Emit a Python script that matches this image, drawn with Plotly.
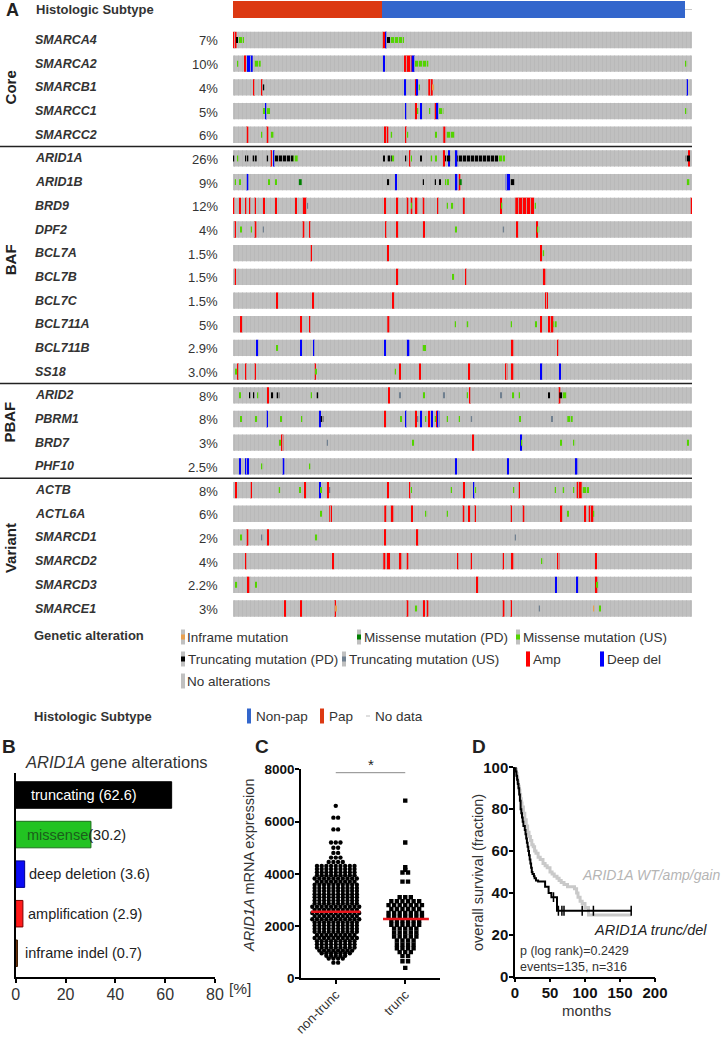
import plotly.graph_objects as go

# ============================ DATA ============================
FIG_W, FIG_H = 723, 1037

GENES = ["SMARCA4", "SMARCA2", "SMARCB1", "SMARCC1", "SMARCC2",
         "ARID1A", "ARID1B", "BRD9", "DPF2", "BCL7A", "BCL7B", "BCL7C",
         "BCL711A", "BCL711B", "SS18",
         "ARID2", "PBRM1", "BRD7", "PHF10",
         "ACTB", "ACTL6A", "SMARCD1", "SMARCD2", "SMARCD3", "SMARCE1"]
PCTS = ["7%", "10%", "4%", "5%", "6%", "26%", "9%", "12%", "4%", "1.5%", "1.5%",
        "1.5%", "5%", "2.9%", "3.0%", "8%", "8%", "3%", "2.5%", "8%", "6%", "2%",
        "4%", "2.2%", "3%"]
GROUP_NAMES = ["Core", "BAF", "PBAF", "Variant"]
GROUP_CENTERS = [2.0, 9.3, 16.15, 21.45]
GROUP_BREAKS = [4.5, 14.5, 18.5]

N_SAMPLES = 459
PAP_SAMPLES = 149
NONPAP_SAMPLES = 303

# alteration codes: A amp, D deep del, M missense (US), P missense (PD),
# T truncating (PD), U truncating (US), I inframe ; (code, first sample, n samples)
SMARCA4 = [("A", 0, 3.5), ("T", 3, 1.2), ("M", 4.3, 6.7), ("A", 149.3, 3.4), ("D", 152, 1.7),
           ("T", 153.7, 3.3), ("M", 157, 14)]
SMARCA2 = [("M", 4.3, 1), ("A", 11.3, 1.4), ("D", 13.7, 6), ("M", 21, 6.7), ("D", 150.3, 1.3),
           ("A", 171, 7.7), ("D", 178.7, 3.3), ("M", 182, 13.3), ("M", 452.7, 1)]
SMARCB1 = [("A", 20.3, 1), ("A", 28, 1.7), ("T", 29.7, 1.5), ("D", 171, 1), ("A", 182, 1),
           ("D", 183, 1.3), ("M", 185.3, 1.7), ("A", 195.3, 4.4), ("I", 199.7, 1), ("D", 453, 2)]
SMARCC1 = [("M", 30.3, 1), ("D", 32.3, 1.3), ("M", 33.7, 3.3), ("D", 172, 1), ("A", 182, 1),
           ("M", 184.3, 1), ("D", 187, 1), ("M", 196, 1), ("A", 201, 2), ("D", 203, 2.7),
           ("M", 205.7, 4.7), ("M", 452.7, 1)]
SMARCC2 = [("A", 13.7, 1), ("M", 28, 1), ("A", 33.7, 1), ("M", 37.7, 2.7), ("A", 151, 1.3),
           ("A", 153.7, 1), ("M", 157.7, 1), ("A", 172, 1), ("M", 173.7, 1.5), ("M", 202, 1),
           ("A", 210.3, 2), ("M", 213, 9)]
ARID1A = [("T", 0, 1.5), ("M", 4.7, 1), ("T", 12, 3.3), ("T", 19.7, 4), ("T", 33.7, 1),
          ("A", 37, 1), ("D", 40.3, 1), ("T", 41, 19.3), ("M", 60.3, 4.4), ("T", 150.3, 1),
          ("T", 154.7, 4), ("M", 158.7, 2.6), ("T", 172.7, 1), ("A", 176, 1), ("M", 177, 2),
          ("T", 187, 1), ("M", 197.7, 1), ("M", 202, 1), ("A", 210.3, 1), ("T", 212, 5.7),
          ("D", 215.3, 1), ("D", 222, 2.3), ("T", 224.3, 41), ("M", 265.3, 6.7),
          ("T", 452.7, 4.3), ("A", 455.3, 1)]
ARID1B = [("M", 1.3, 1), ("M", 6, 1), ("D", 13.7, 1), ("M", 35.3, 1), ("M", 42, 1), ("P", 65.3, 3.4),
          ("T", 154.7, 1), ("D", 162, 1), ("T", 189.3, 1), ("T", 201.3, 1), ("T", 206, 1),
          ("M", 212, 4), ("D", 222, 2.3), ("A", 225.7, 1), ("P", 226.3, 2.4), ("D", 272.7, 4.3),
          ("T", 277, 5), ("M", 453.7, 2.6)]
BRD9 = [("A", 0.3, 1.2), ("A", 6, 1), ("A", 12.3, 1), ("A", 16.3, 1), ("A", 21, 1), ("A", 30.3, 1),
        ("A", 42, 1), ("A", 62, 1), ("A", 69.7, 4), ("U", 73.7, 1), ("A", 151, 1.7),
        ("A", 163.7, 1.6), ("A", 173.7, 1), ("M", 177, 1), ("A", 177.7, 1), ("A", 182.7, 1),
        ("A", 189.7, 1), ("A", 204, 1), ("M", 213, 1), ("M", 218.7, 1), ("A", 229.7, 2),
        ("A", 267, 1), ("M", 268, 1), ("A", 282.3, 18.7), ("M", 301, 1.7), ("A", 457, 1)]
DPF2 = [("A", 1.3, 1), ("M", 7, 1), ("M", 17, 1), ("A", 21.7, 1), ("U", 29.3, 1), ("A", 69.7, 1),
        ("A", 76, 1), ("A", 152, 1), ("A", 163.7, 1), ("A", 190.3, 1), ("M", 222, 1),
        ("U", 269.7, 1), ("A", 283.7, 1), ("A", 303, 1.7), ("M", 304.7, 1.5)]
BCL7A = [("A", 77, 1.7), ("A", 154.3, 1), ("A", 307.3, 1.7), ("M", 309.7, 1)]
BCL7B = [("A", 1, 2), ("A", 163.7, 1), ("M", 219.7, 1), ("A", 232, 1), ("A", 310.7, 1)]
BCL7C = [("A", 43, 1), ("A", 79, 1), ("A", 159.7, 1), ("A", 312, 3)]
BCL711A = [("A", 7.7, 1.7), ("A", 67, 1), ("A", 76, 1), ("A", 154.3, 2), ("M", 221, 1),
           ("M", 233.7, 1.5), ("M", 277, 1), ("M", 302, 1), ("A", 307.3, 1), ("A", 315, 5.3),
           ("M", 320.3, 3.4)]
BCL711B = [("D", 23.7, 1), ("M", 43.7, 1), ("D", 67, 1), ("D", 80.3, 1), ("D", 151, 1),
           ("D", 173.7, 2.6), ("M", 189.7, 1), ("M", 191.3, 1), ("A", 278.7, 1), ("A", 324.3, 1)]
SS18 = [("M", 2.7, 1), ("A", 4.3, 1), ("A", 12, 1), ("A", 21, 1), ("A", 81.3, 1), ("M", 82.3, 1),
        ("M", 161, 1), ("A", 166, 1), ("A", 186, 1), ("A", 235.7, 1), ("A", 272.7, 1),
        ("A", 278.7, 1), ("D", 307.7, 1), ("D", 326, 1)]
ARID2 = [("M", 6, 1), ("T", 16.3, 1), ("T", 20.3, 1), ("M", 24.7, 1), ("A", 34.3, 1), ("T", 38.7, 1),
         ("T", 43.7, 2.6), ("M", 77, 1), ("T", 83.7, 2), ("A", 155.3, 1), ("U", 166.3, 1),
         ("M", 190.3, 1), ("U", 210.3, 1), ("M", 233, 1), ("A", 236.3, 1), ("U", 267, 1),
         ("M", 279.7, 1), ("M", 285.3, 1), ("T", 315.7, 1), ("A", 325.7, 1), ("T", 326.3, 3),
         ("M", 329.3, 4.4)]
PBRM1 = [("M", 7, 1), ("M", 22.7, 1), ("D", 33, 1), ("M", 47.7, 1), ("M", 68, 1), ("D", 86.3, 1),
         ("T", 87.7, 2.6), ("A", 151, 1), ("M", 167, 1), ("D", 172.3, 1), ("A", 182.3, 1),
         ("U", 184.7, 1), ("D", 187.3, 1), ("M", 192.7, 1), ("A", 195.7, 1), ("D", 198, 1),
         ("M", 201, 1), ("A", 203, 1), ("D", 204.7, 1.3), ("M", 213, 1), ("M", 225.3, 1),
         ("U", 237.7, 1), ("M", 286, 1), ("U", 318, 1), ("M", 334.3, 5.4)]
BRD7 = [("M", 46.3, 1), ("A", 48.7, 1), ("U", 93, 1.3), ("M", 179.3, 1), ("A", 239, 1),
        ("D", 287.3, 1), ("M", 288, 1), ("M", 327, 1), ("M", 340.7, 1), ("M", 454, 1)]
PHF10 = [("D", 6, 1), ("D", 12, 1), ("D", 14, 1), ("M", 28.7, 1), ("D", 49.7, 1), ("M", 76, 1),
         ("D", 222, 1), ("D", 274, 1.3), ("D", 342.7, 1)]
ACTB = [("A", 2, 1), ("A", 17, 1), ("M", 45.7, 1), ("M", 66.3, 1), ("A", 71, 1), ("D", 86.3, 1),
        ("M", 87.7, 1), ("A", 94.3, 1), ("U", 96, 1), ("A", 154.3, 1), ("A", 176, 1), ("M", 177, 1),
        ("M", 217.3, 1), ("A", 230, 1), ("D", 240, 1), ("M", 241.7, 1), ("M", 280.3, 1),
        ("A", 285, 1), ("M", 321.3, 1), ("M", 329.7, 1), ("M", 340.3, 1), ("A", 343.7, 5),
        ("M", 348.7, 7.3)]
ACTL6A = [("M", 87.7, 1), ("A", 96.3, 2.7), ("A", 151.3, 2.4), ("A", 157.7, 2.6), ("A", 178, 1),
          ("M", 192.7, 1), ("M", 213, 1), ("A", 229.7, 1), ("A", 235.7, 1), ("A", 241.3, 1),
          ("A", 277.3, 1), ("A", 289.7, 1), ("A", 327, 2.7), ("M", 334.3, 1), ("A", 351.7, 1),
          ("A", 355.7, 4.6), ("M", 360.3, 1)]
SMARCD1 = [("M", 7.7, 1), ("A", 13.7, 1), ("U", 28.7, 1), ("A", 34.3, 1), ("M", 82.7, 1),
           ("A", 151, 1), ("A", 183.7, 1), ("U", 281.3, 1)]
SMARCD2 = [("A", 12, 1), ("A", 99.3, 1.7), ("A", 150.3, 2), ("A", 153.7, 3.3), ("A", 166.7, 1),
           ("A", 173.7, 1), ("A", 224.3, 1), ("A", 237, 1), ("A", 269.3, 1.7), ("A", 278.7, 1),
           ("M", 308.7, 1), ("A", 324.7, 1), ("A", 362, 1)]
SMARCD3 = [("M", 2.7, 1), ("A", 14.7, 1), ("M", 22, 1), ("A", 243.7, 1), ("D", 322.3, 1),
           ("D", 343.7, 1), ("A", 362.7, 1), ("M", 363.7, 1.7)]
SMARCE1 = [("A", 51, 1), ("A", 67, 1), ("A", 101.3, 1), ("I", 102.3, 1), ("A", 173.7, 1),
           ("M", 182.7, 1), ("A", 190.3, 1), ("A", 193.7, 1), ("A", 269.7, 1.7), ("A", 277, 1),
           ("U", 305.3, 1), ("I", 360.3, 1), ("M", 366, 1)]

ALTERATIONS = [SMARCA4, SMARCA2, SMARCB1, SMARCC1, SMARCC2, ARID1A, ARID1B, BRD9, DPF2,
               BCL7A, BCL7B, BCL7C, BCL711A, BCL711B, SS18, ARID2, PBRM1, BRD7, PHF10,
               ACTB, ACTL6A, SMARCD1, SMARCD2, SMARCD3, SMARCE1]

# Panel B
B_LABELS = ["truncating", "missense", "deep deletion", "amplification", "inframe indel"]
B_VALUES = [62.6, 30.2, 3.6, 2.9, 0.7]

# Panel C (expression values, arranged in rows as in the dot plot)
NT_LEVELS = [6600, 6150, 5700, 5200, 5000, 4800, 4620, 4450,
             4300, 4180, 4060, 3940, 3820, 3700, 3580, 3460, 3340, 3220, 3100, 2980,
             2860, 2740, 2620, 2500, 2380, 2260, 2140, 2020, 1900, 1780,
             1660, 1540, 1420, 1300, 1180, 1060, 960, 860, 760, 600]
NT_COUNTS = [1, 2, 2, 3, 2, 2, 3, 4,
             9, 9, 9, 9, 10, 9, 10, 10, 10, 10, 10, 10,
             10, 11, 10, 11, 10, 11, 10, 10, 10, 10,
             9, 10, 9, 9, 9, 8, 7, 5, 4, 2]
T_LEVELS = [6800, 5200, 4250, 4150, 4050, 3700, 3100, 2950, 2800, 2650, 2500, 2350, 2200,
            2050, 1900, 1750, 1600, 1450, 1300, 1150, 1000, 850, 650, 400]
T_COUNTS = [1, 1, 1, 1, 2, 2, 3, 6, 7, 6, 7, 7, 6, 6, 5, 5, 5, 4, 4, 4, 3, 2, 2, 1]
NT_MEDIAN = 2549
T_MEDIAN = 2270
C_CATS = ["non-trunc", "trunc"]

# Panel D (Kaplan-Meier, % surviving)
WT_TIME = [0, 1, 2, 3, 4, 5, 6, 7, 8, 9, 10, 12, 14, 16, 18, 20, 22, 24, 26, 28, 30, 33, 36,
           40, 43, 46, 50, 53, 56, 60, 63, 66, 70, 75, 80, 85, 88, 90, 93, 96, 100, 105, 166]
WT_SURV = [100, 99, 97, 95, 93, 91, 89, 87, 85, 83, 81, 78, 75, 72, 69, 67, 65, 63, 62, 60, 59,
           57, 56, 54, 53, 52, 50, 49, 48, 47, 46, 45, 44, 43, 43, 42, 40, 38, 36, 35, 33, 29.5, 29.5]
TD_TIME = [0, 1, 2, 3, 4, 5, 6, 7, 8, 9, 10, 11, 12, 14, 15, 16, 17, 18, 19, 20, 21, 22, 23, 24,
           25, 27, 28, 30, 33, 43, 48, 52, 60, 166]
TD_SURV = [100, 98, 96, 94, 92, 90, 87, 84, 80, 78, 76, 74, 72, 70, 68, 66, 64, 62, 60, 58, 56,
           54, 52, 50, 49, 48, 47, 46, 45.5, 43, 40, 38, 31.5, 31.5]
TD_CENSOR_T = [55, 62, 67, 70, 96, 112, 166]
TD_CENSOR_S = [38, 31.5, 31.5, 31.5, 31.5, 31.5, 31.5]

# ============================ STYLE ============================
FONT = "Liberation Sans, Arial, sans-serif"
TXT = "#333333"
ROW_GRAY = "#C0C0C0"
ALT_STYLE = {  # code: (color, is_cna)
    "A": ("#FF0000", True), "D": ("#0000FF", True),
    "M": ("#53D400", False), "P": ("#008000", False),
    "T": ("#000000", False), "U": ("#708090", False), "I": ("#E8A050", False),
}
ROW_PITCH = 23.6875  # px per oncoprint row
ROW0_PX = 40.0


def px(x):
    return x / FIG_W


def py(y):
    return 1 - y / FIG_H


def row_of(ypx):
    return (ypx - ROW0_PX) / ROW_PITCH


fig = go.Figure()

# ---------- Panel A : oncoprint ----------
n = len(GENES)
fig.add_trace(go.Bar(orientation="h", y=list(range(n)), x=[N_SAMPLES] * n, base=[0] * n,
                     width=0.69, marker=dict(color=ROW_GRAY, line_width=0),
                     xaxis="x", yaxis="y", hoverinfo="skip"))
# subtle sample stripes on the gray rows
stripe_x, stripe_y = [], []
for gi in range(n):
    for s in range(0, N_SAMPLES, 4):
        stripe_x += [s + 1.5, s + 1.5, None]
        stripe_y += [gi - 0.345, gi + 0.345, None]
fig.add_trace(go.Scatter(x=stripe_x, y=stripe_y, mode="lines",
                         line=dict(color="#B8B8B8", width=0.8), xaxis="x", yaxis="y",
                         hoverinfo="skip"))

hist_y = row_of(9.5)
fig.add_trace(go.Bar(orientation="h", y=[hist_y, hist_y], x=[PAP_SAMPLES, NONPAP_SAMPLES],
                     base=[0, PAP_SAMPLES], width=0.72,
                     marker=dict(color=["#DC3912", "#3366CC"], line_width=0),
                     xaxis="x", yaxis="y", hoverinfo="skip"))
fig.add_trace(go.Scatter(x=[PAP_SAMPLES + NONPAP_SAMPLES, N_SAMPLES], y=[hist_y, hist_y],
                         mode="lines", line=dict(color="#C8C8C8", width=1),
                         xaxis="x", yaxis="y", hoverinfo="skip"))

for code in ["A", "D", "M", "P", "T", "U", "I"]:
    color, is_cna = ALT_STYLE[code]
    ys, bs, ws = [], [], []
    for gi, alts in enumerate(ALTERATIONS):
        for c, s, w in alts:
            if c == code:
                ys.append(gi)
                bs.append(s)
                ws.append(max(w, 1.6 if is_cna else 1.4))
    if ys:
        fig.add_trace(go.Bar(orientation="h", y=ys, x=ws, base=bs,
                             width=0.69 if is_cna else 0.25,
                             marker=dict(color=color, line_width=0),
                             xaxis="x", yaxis="y", hoverinfo="skip"))

ann = []
shapes = []
ann.append(dict(text="<b>A</b>", x=px(4), y=py(10), xref="paper", yref="paper",
                xanchor="left", yanchor="middle", showarrow=False,
                font=dict(size=18, color="#222", family=FONT)))
ann.append(dict(text="<b>Histologic Subtype</b>", x=px(34), y=hist_y, xref="paper", yref="y",
                xanchor="left", yanchor="middle", showarrow=False,
                font=dict(size=13, color=TXT, family=FONT)))
for gi, (g, p) in enumerate(zip(GENES, PCTS)):
    ann.append(dict(text=f"<b><i>{g}</i></b>", x=px(33), y=gi, xref="paper", yref="y",
                    xanchor="left", yanchor="middle", showarrow=False,
                    font=dict(size=12.5, color=TXT, family=FONT)))
    ann.append(dict(text=p, x=px(220), y=gi + 0.04, xref="paper", yref="y",
                    xanchor="right", yanchor="middle", showarrow=False,
                    font=dict(size=13, color=TXT, family=FONT)))
for name, c in zip(GROUP_NAMES, GROUP_CENTERS):
    ann.append(dict(text=f"<b>{name}</b>", x=px(10), y=c, xref="paper", yref="y",
                    xanchor="center", yanchor="middle", textangle=-90, showarrow=False,
                    font=dict(size=15, color="#222", family=FONT)))
for b in GROUP_BREAKS:
    shapes.append(dict(type="line", xref="paper", yref="y", x0=0, x1=px(692), y0=b, y1=b,
                       line=dict(color="#222", width=1.5)))

# ---------- legends under oncoprint ----------
ann.append(dict(text="<b>Genetic alteration</b>", x=px(32), y=py(635), xref="paper",
                yref="paper", xanchor="left", yanchor="middle", showarrow=False,
                font=dict(size=13, color=TXT, family=FONT)))
LEG = [("I", "Inframe mutation", 181, 637), ("P", "Missense mutation (PD)", 357, 637),
       ("M", "Missense mutation (US)", 516, 637), ("T", "Truncating mutation (PD)", 181, 659),
       ("U", "Truncating mutation (US)", 342, 659), ("A", "Amp", 526, 659),
       ("D", "Deep del", 600, 659), (None, "No alterations", 181, 681)]
for code, label, mx, my in LEG:
    shapes.append(dict(type="rect", xref="paper", yref="paper", x0=px(mx), x1=px(mx + 4),
                       y0=py(my + 7.5), y1=py(my - 7.5), fillcolor=ROW_GRAY, line_width=0))
    if code is not None:
        color, is_cna = ALT_STYLE[code]
        h = 7.5 if is_cna else 2.5
        shapes.append(dict(type="rect", xref="paper", yref="paper", x0=px(mx), x1=px(mx + 4),
                           y0=py(my + h), y1=py(my - h), fillcolor=color, line_width=0))
    ann.append(dict(text=label, x=px(mx + 4.5), y=py(my), xref="paper", yref="paper",
                    xanchor="left", yanchor="middle", showarrow=False,
                    font=dict(size=13.5, color=TXT, family=FONT)))

ann.append(dict(text="<b>Histologic Subtype</b>", x=px(32), y=py(716), xref="paper",
                yref="paper", xanchor="left", yanchor="middle", showarrow=False,
                font=dict(size=13, color=TXT, family=FONT)))
HLEG = [("#3366CC", "Non-pap", 247, 7.5), ("#DC3912", "Pap", 320, 7.5), ("#C8C8C8", "No data", 366, 0.6)]
for color, label, mx, h in HLEG:
    shapes.append(dict(type="rect", xref="paper", yref="paper", x0=px(mx), x1=px(mx + 4),
                       y0=py(716 + h), y1=py(716 - h), fillcolor=color, line_width=0))
    ann.append(dict(text=label, x=px(mx + 7), y=py(716), xref="paper", yref="paper",
                    xanchor="left", yanchor="middle", showarrow=False,
                    font=dict(size=13.5, color=TXT, family=FONT)))

# ---------- Panel B ----------
B_FILL = ["#000000", "#22C322", "#0B0BF5", "#FF1A1A", "#7A3A10"]
B_LINE = ["#000000", "#1B6F1B", "#00008B", "#7A0000", "#3A1A00"]
fig.add_trace(go.Bar(orientation="h", y=list(range(len(B_VALUES))), x=B_VALUES, width=0.67,
                     marker=dict(color=B_FILL, line=dict(color=B_LINE, width=1)),
                     xaxis="x2", yaxis="y2", hoverinfo="skip"))
B_TEXTS = [f"<span style='color:white'>{B_LABELS[0]} ({B_VALUES[0]})</span>",
           f"<span style='color:#1B5E1B'>{B_LABELS[1]}</span>({B_VALUES[1]})",
           f"{B_LABELS[2]} ({B_VALUES[2]})",
           f"{B_LABELS[3]} ({B_VALUES[3]})",
           f"{B_LABELS[4]} ({B_VALUES[4]})"]
B_TEXT_X = [29, 24.5, 26.5, 25.5, 23]
for i, (t, tx) in enumerate(zip(B_TEXTS, B_TEXT_X)):
    ann.append(dict(text=t, x=px(tx), y=i, xref="paper", yref="y2", xanchor="left",
                    yanchor="middle", showarrow=False,
                    font=dict(size=14.5, color="#222", family=FONT)))
ann.append(dict(text="<b>B</b>", x=px(0), y=py(746), xref="paper", yref="paper",
                xanchor="left", yanchor="middle", showarrow=False,
                font=dict(size=19, color="#222", family=FONT)))
ann.append(dict(text="<i>ARID1A</i> gene alterations", x=px(23), y=py(762), xref="paper",
                yref="paper", xanchor="left", yanchor="middle", showarrow=False,
                font=dict(size=16.5, color=TXT, family=FONT)))
ann.append(dict(text="[%]", x=px(227), y=py(988), xref="paper", yref="paper",
                xanchor="left", yanchor="middle", showarrow=False,
                font=dict(size=15.5, color=TXT, family=FONT)))

# ---------- Panel C ----------
def swarm(levels, counts, center, dx):
    xs, ys = [], []
    for v, k in zip(levels, counts):
        for j in range(k):
            xs.append(center + (j - (k - 1) / 2) * dx)
            ys.append(v)
    return xs, ys


ntx, nty = swarm(NT_LEVELS, NT_COUNTS, 1.0, 0.135)
tx_, ty_ = swarm(T_LEVELS, T_COUNTS, 3.0, 0.16)
fig.add_trace(go.Scatter(x=ntx, y=nty, mode="markers", xaxis="x3", yaxis="y3",
                         marker=dict(symbol="circle", size=4.4, color="#000"), hoverinfo="skip"))
fig.add_trace(go.Scatter(x=tx_, y=ty_, mode="markers", xaxis="x3", yaxis="y3",
                         marker=dict(symbol="square", size=4.4, color="#000"), hoverinfo="skip"))
fig.add_trace(go.Scatter(x=[0.29, 1.71, None, 2.36, 3.68], y=[NT_MEDIAN, NT_MEDIAN, None, T_MEDIAN, T_MEDIAN],
                         mode="lines", line=dict(color="#E8141B", width=2.5),
                         xaxis="x3", yaxis="y3", hoverinfo="skip"))
fig.add_trace(go.Scatter(x=[1, 3], y=[7870, 7870], mode="lines",
                         line=dict(color="#888", width=1), xaxis="x3", yaxis="y3",
                         hoverinfo="skip"))
ann.append(dict(text="*", x=px(371), y=py(764), xref="paper", yref="paper", xanchor="center",
                yanchor="middle", showarrow=False, font=dict(size=15, color="#222", family=FONT)))
ann.append(dict(text="<b>C</b>", x=px(253), y=py(746), xref="paper", yref="paper",
                xanchor="left", yanchor="middle", showarrow=False,
                font=dict(size=19, color="#222", family=FONT)))
ann.append(dict(text="<i>ARID1A</i> mRNA expression", x=px(249), y=py(866), xref="paper",
                yref="paper", xanchor="center", yanchor="middle", textangle=-90,
                showarrow=False, font=dict(size=14.5, color=TXT, family=FONT)))

# ---------- Panel D ----------
fig.add_trace(go.Scatter(x=WT_TIME, y=WT_SURV, mode="lines", line_shape="hv",
                         line=dict(color="#C9C9C9", width=3), xaxis="x4", yaxis="y4",
                         hoverinfo="skip"))
fig.add_trace(go.Scatter(x=TD_TIME, y=TD_SURV, mode="lines", line_shape="hv",
                         line=dict(color="#000", width=2), xaxis="x4", yaxis="y4",
                         hoverinfo="skip"))
fig.add_trace(go.Scatter(x=TD_CENSOR_T, y=TD_CENSOR_S, mode="markers",
                         marker=dict(symbol="line-ns", size=7, line=dict(color="#000", width=1.5)),
                         xaxis="x4", yaxis="y4", hoverinfo="skip"))
ann.append(dict(text="<b>D</b>", x=px(470), y=py(746), xref="paper", yref="paper",
                xanchor="left", yanchor="middle", showarrow=False,
                font=dict(size=19, color="#222", family=FONT)))
ann.append(dict(text="overall survival (fraction)", x=px(478), y=py(873), xref="paper",
                yref="paper", xanchor="center", yanchor="middle", textangle=-90,
                showarrow=False, font=dict(size=14.5, color=TXT, family=FONT)))
ann.append(dict(text="months", x=px(586), y=py(1010), xref="paper", yref="paper",
                xanchor="center", yanchor="middle", showarrow=False,
                font=dict(size=15, color=TXT, family=FONT)))
ann.append(dict(text="<i>ARID1A WT/amp/gain</i>", x=px(722), y=py(875), xref="paper",
                yref="paper", xanchor="right", yanchor="middle", showarrow=False,
                font=dict(size=14, color="#B5B5B5", family=FONT)))
ann.append(dict(text="<i>ARID1A trunc/del</i>", x=px(592), y=py(930), xref="paper",
                yref="paper", xanchor="left", yanchor="middle", showarrow=False,
                font=dict(size=14.5, color="#222", family=FONT)))
ann.append(dict(text="p (log rank)=0.2429", x=px(518), y=py(951), xref="paper",
                yref="paper", xanchor="left", yanchor="middle", showarrow=False,
                font=dict(size=12.5, color=TXT, family=FONT)))
ann.append(dict(text="events=135, n=316", x=px(518), y=py(967), xref="paper",
                yref="paper", xanchor="left", yanchor="middle", showarrow=False,
                font=dict(size=12.5, color=TXT, family=FONT)))

# ============================ LAYOUT ============================
axis_common = dict(showgrid=False, zeroline=False, showline=True, linecolor="#000",
                   linewidth=1.5, ticks="outside", ticklen=4, tickwidth=1.5, tickcolor="#000",
                   automargin=False, ticklabelstandoff=-2)

fig.update_layout(
    width=FIG_W, height=FIG_H, margin=dict(l=0, r=0, t=0, b=0, autoexpand=False),
    paper_bgcolor="white", plot_bgcolor="white", showlegend=False, barmode="overlay",
    font=dict(family=FONT, color=TXT),
    xaxis=dict(domain=[px(233), px(692)], range=[0, N_SAMPLES], visible=False,
               fixedrange=True, automargin=False),
    yaxis=dict(domain=[py(620), 1], range=[row_of(620), row_of(0)], visible=False,
               fixedrange=True, automargin=False),
    xaxis2=dict(domain=[px(15.7), px(215)], range=[0, 80], anchor="y2",
                tickvals=[0, 20, 40, 60, 80], tickfont=dict(size=16, color=TXT), **axis_common),
    yaxis2=dict(domain=[py(977), py(773)], range=[4.6, -0.556], anchor="x2",
                showgrid=False, zeroline=False, showline=True, linecolor="#000",
                linewidth=1.5, ticks="", showticklabels=False, automargin=False),
    xaxis3=dict(domain=[px(301), px(440)], range=[0, 4], anchor="y3", tickvals=[1, 3],
                ticktext=C_CATS, tickangle=-45, tickfont=dict(size=13, color=TXT),
                **axis_common),
    yaxis3=dict(domain=[py(978.3), py(769.3)], range=[0, 8000], anchor="x3",
                tickvals=[0, 2000, 4000, 6000, 8000],
                tickfont=dict(size=13.5, color="#111", weight="bold"), **axis_common),
    xaxis4=dict(domain=[px(515), px(655)], range=[0, 200], anchor="y4",
                tickvals=[0, 50, 100, 150, 200],
                tickfont=dict(size=15, color="#111", weight="bold"), **axis_common),
    yaxis4=dict(domain=[py(976.7), py(767.3)], range=[0, 100], anchor="x4",
                tickvals=[0, 20, 40, 60, 80, 100],
                tickfont=dict(size=15, color="#111", weight="bold"), **axis_common),
    annotations=ann, shapes=shapes,
)

fig.write_html("out.html", config={"displayModeBar": False},
               post_script="document.body.style.margin='0';document.body.style.overflow='hidden';")
